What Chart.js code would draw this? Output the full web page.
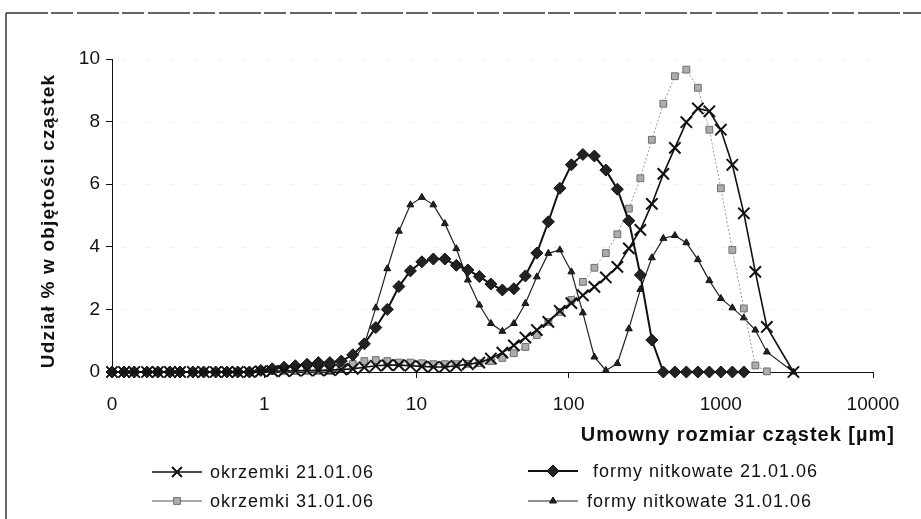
<!DOCTYPE html>
<html>
<head>
<meta charset="utf-8">
<script src="https://cdn.jsdelivr.net/npm/chart.js@4.4.0/dist/chart.umd.min.js"></script>
<style>
  html, body { margin: 0; background: #fff; }
  #wrap { width: 921px; height: 519px; position: relative; }
</style>
</head>
<body>
<div id="wrap"><canvas id="chart" width="921" height="519"></canvas></div>
<script>
// particle size classes [µm]
const sizes = [0.1, 0.12, 0.14, 0.17, 0.2, 0.24, 0.28, 0.34, 0.4, 0.48, 0.57, 0.67, 0.8, 0.95,
  1.13, 1.35, 1.6, 1.91, 2.27, 2.7, 3.21, 3.82, 4.55, 5.41, 6.44, 7.67, 9.13, 10.86, 12.92,
  15.38, 18.3, 21.78, 25.92, 30.85, 36.71, 43.68, 51.98, 61.86, 73.62, 87.61, 104.3, 124.1,
  147.7, 175.7, 209.1, 248.8, 296.1, 352.4, 419.3, 499.0, 593.8, 706.7, 841.0, 1000.8,
  1190.9, 1417.2, 1686.5, 2007, 3000];

// volume share [%] per class
const okrzemki21 = [0, 0, 0, 0, 0, 0, 0, 0, 0, 0, 0, 0, 0,
  0.02, 0.03, 0.03, 0.04, 0.05, 0.05, 0.06, 0.08,
  0.1, 0.15, 0.2, 0.22, 0.22, 0.2, 0.18, 0.16, 0.16, 0.2, 0.25, 0.3, 0.43, 0.62, 0.85, 1.1,
  1.34, 1.6, 1.95, 2.2, 2.45, 2.72, 3.02, 3.36, 3.95, 4.54, 5.37, 6.33, 7.16, 7.98, 8.42,
  8.33, 7.74, 6.62, 5.07, 3.2, 1.44, 0];

const okrzemki31 = [0, 0, 0, 0, 0, 0, 0, 0, 0, 0, 0, 0, 0,
  0.03, 0.04, 0.05, 0.05, 0.06, 0.07, 0.08, 0.12,
  0.25, 0.35, 0.38, 0.35, 0.3, 0.3, 0.28, 0.25, 0.25, 0.25, 0.26, 0.28, 0.35, 0.45, 0.6, 0.8,
  1.18, 1.6, 1.92, 2.3, 2.88, 3.33, 3.8, 4.4, 5.22, 6.19, 7.42, 8.57, 9.45, 9.66, 9.08,
  7.74, 5.87, 3.9, 2.03, 0.21, 0.02, null];

const nitkowate21 = [0, 0, 0, 0, 0, 0, 0, 0, 0, 0, 0, 0, 0,
  0.05, 0.1, 0.15, 0.2, 0.25, 0.3, 0.3, 0.35,
  0.55, 0.9, 1.42, 2.0, 2.73, 3.23, 3.52, 3.61, 3.61, 3.41, 3.26, 3.05, 2.81, 2.62, 2.66,
  3.07, 3.8, 4.8, 5.87, 6.62, 6.95, 6.9, 6.45, 5.84, 4.83, 3.1, 1.02, 0, 0, 0, 0, 0, 0, 0,
  0, null, null, null];

const nitkowate31 = [0, 0, 0, 0, 0, 0, 0, 0, 0, 0, 0, 0, 0, 0, 0, 0, 0, 0, 0, 0,
  0.05, 0.35, 0.88, 2.05, 3.3, 4.5, 5.34, 5.58, 5.34, 4.74, 3.94, 2.94, 2.14, 1.55, 1.3,
  1.55, 2.19, 3.04, 3.79, 3.9, 3.2, 1.89, 0.48, 0.05, 0.27, 1.38, 2.64, 3.65, 4.27, 4.36,
  4.13, 3.59, 2.92, 2.35, 2.05, 1.73, 1.34, 0.64, 0];

const xTicks = [0.1, 1, 10, 100, 1000, 10000];
const yTicks = [0, 2, 4, 6, 8, 10];

const xTitle = 'Umowny rozmiar cząstek [µm]';
const yTitle = 'Udział % w objętości cząstek';

const FONT = "'Liberation Sans', Arial, sans-serif";
Chart.defaults.font.family = FONT;
Chart.defaults.color = '#111';

function points(values) {
  const out = [];
  values.forEach((v, i) => { if (v !== null) out.push({ x: sizes[i], y: v }); });
  return out;
}

const datasets = [
  {
    label: 'okrzemki 21.01.06',
    data: points(okrzemki21),
    borderColor: '#111', borderWidth: 1.6,
    pointStyle: 'crossRot', pointRadius: 8, pointBorderWidth: 2,
    pointBorderColor: '#111', pointBackgroundColor: '#111',
    legendAt: { x: 152, y: 472, textX: 210 }
  },
  {
    label: 'formy nitkowate 21.01.06',
    data: points(nitkowate21),
    borderColor: '#111', borderWidth: 2,
    pointStyle: 'rectRot', pointRadius: 6, pointBorderWidth: 1,
    pointBorderColor: '#111', pointBackgroundColor: '#222',
    legendAt: { x: 528, y: 471, textX: 593 }
  },
  {
    label: 'okrzemki 31.01.06',
    data: points(okrzemki31),
    borderColor: '#9a9a9a', borderWidth: 1, borderDash: [2, 2],
    pointStyle: 'rect', pointRadius: 4.8, pointBorderWidth: 1,
    pointBorderColor: '#6e6e6e', pointBackgroundColor: '#adadad',
    legendAt: { x: 152, y: 501, textX: 210 }
  },
  {
    label: 'formy nitkowate 31.01.06',
    data: points(nitkowate31),
    borderColor: '#222', borderWidth: 1.2,
    pointStyle: 'triangle', pointRadius: 4, pointBorderWidth: 1,
    pointBorderColor: '#111', pointBackgroundColor: '#222',
    legendAt: { x: 528, y: 501, textX: 587 }
  }
];
datasets.forEach(d => { d.tension = 0; d.clip = false; d.fill = false; });

// frame, faint grid, axis titles and the two-column legend
const decor = {
  id: 'decor',
  beforeDatasetsDraw(chart) {
    const { ctx, chartArea: a, scales: { y } } = chart;
    ctx.save();
    ctx.strokeStyle = 'rgba(0,0,0,0.12)';
    ctx.lineWidth = 1;
    ctx.setLineDash([2, 22]);
    yTicks.slice(1).forEach(v => {
      const py = Math.round(y.getPixelForValue(v)) + 0.5;
      ctx.beginPath(); ctx.moveTo(a.left + 10, py); ctx.lineTo(a.right, py); ctx.stroke();
    });
    ctx.restore();
  },
  afterDraw(chart) {
    const { ctx } = chart;
    ctx.save();
    // outer frame
    ctx.strokeStyle = '#333';
    ctx.lineWidth = 1.5;
    ctx.beginPath(); ctx.moveTo(6, 13); ctx.lineTo(6, 519); ctx.stroke();
    ctx.setLineDash([42, 3, 22, 4]);
    ctx.beginPath(); ctx.moveTo(6, 13); ctx.lineTo(921, 13); ctx.stroke();
    ctx.setLineDash([]);

    // axis titles
    ctx.fillStyle = '#111';
    ctx.textBaseline = 'middle';
    ctx.font = 'bold 20px ' + FONT;
    ctx.letterSpacing = '1px';
    ctx.textAlign = 'right';
    ctx.fillText(xTitle, 895, 435);

    ctx.save();
    ctx.translate(49, 221);
    ctx.rotate(-Math.PI / 2);
    ctx.font = 'bold 19px ' + FONT;
    ctx.letterSpacing = '1.2px';
    ctx.textAlign = 'center';
    ctx.fillText(yTitle, 0, 0);
    ctx.restore();

    // legend
    ctx.font = '18px ' + FONT;
    ctx.letterSpacing = '1px';
    ctx.textAlign = 'left';
    chart.data.datasets.forEach(d => {
      const p = d.legendAt;
      ctx.strokeStyle = d.borderColor === '#9a9a9a' ? '#555' : d.borderColor;
      ctx.lineWidth = Math.max(1.2, d.borderWidth);
      ctx.beginPath(); ctx.moveTo(p.x, p.y); ctx.lineTo(p.x + 50, p.y); ctx.stroke();
      ctx.fillStyle = d.pointBackgroundColor;
      ctx.strokeStyle = d.pointBorderColor;
      ctx.lineWidth = d.pointBorderWidth;
      Chart.helpers.drawPoint(ctx, {
        pointStyle: d.pointStyle,
        radius: d.pointStyle === 'crossRot' ? 7 : d.pointRadius,
        rotation: 0,
        borderWidth: d.pointBorderWidth
      }, p.x + 25, p.y);
      ctx.fillStyle = '#111';
      ctx.fillText(d.label, p.textX, p.y + 1);
    });
    ctx.restore();
  }
};

new Chart(document.getElementById('chart'), {
  type: 'line',
  data: { datasets },
  options: {
    responsive: false,
    animation: false,
    devicePixelRatio: 1,
    layout: { padding: { top: 59, right: 48, bottom: 0, left: 0 } },
    plugins: { legend: { display: false }, tooltip: { enabled: false } },
    scales: {
      x: {
        type: 'logarithmic',
        min: 0.1,
        max: 10000,
        afterBuildTicks: s => { s.ticks = xTicks.map(v => ({ value: v })); },
        afterFit: s => { s.height = 147; },
        grid: { drawOnChartArea: false, drawTicks: true, tickLength: 6, tickColor: '#111' },
        border: { color: '#111', width: 1 },
        ticks: {
          font: { size: 19 },
          padding: 15,
          maxRotation: 0,
          autoSkip: false,
          callback: v => (v === 0.1 ? '0' : String(v))
        }
      },
      y: {
        min: 0,
        max: 10,
        afterBuildTicks: s => { s.ticks = yTicks.map(v => ({ value: v })); },
        afterFit: s => { s.width = 112; },
        grid: { drawOnChartArea: false, drawTicks: true, tickLength: 6, tickColor: '#111' },
        border: { color: '#111', width: 1 },
        ticks: { font: { size: 19 }, padding: 6 }
      }
    }
  },
  plugins: [decor]
});
</script>
</body>
</html>
